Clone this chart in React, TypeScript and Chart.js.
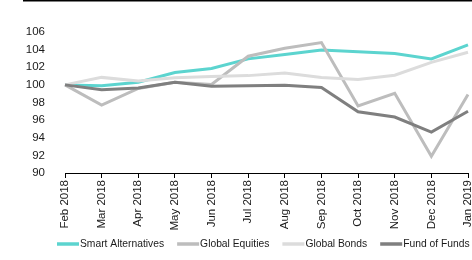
import React, { useEffect, useRef } from "react";
import { Chart, registerables } from "chart.js";

Chart.register(...registerables);

const categories = [
  "Feb 2018", "Mar 2018", "Apr 2018", "May 2018", "Jun 2018", "Jul 2018",
  "Aug 2018", "Sep 2018", "Oct 2018", "Nov 2018", "Dec 2018", "Jan 2019",
];
const smartAlternatives = [100, 99.9, 100.3, 101.4, 101.85, 102.95, 103.45, 103.95, 103.75, 103.55, 102.95, 104.55];
const globalEquities = [100, 97.7, 99.6, 100.3, 100.05, 103.25, 104.15, 104.8, 97.6, 99.05, 91.9, 98.9];
const globalBonds = [100, 100.85, 100.45, 100.8, 100.95, 101.05, 101.35, 100.85, 100.6, 101.1, 102.55, 103.7];
const fundOfFunds = [100, 99.45, 99.65, 100.3, 99.85, 99.9, 99.95, 99.7, 96.95, 96.35, 94.65, 97.0];

const seriesNames = ["Smart Alternatives", "Global Equities", "Global Bonds", "Fund of Funds"];
const seriesColors = ["#5CD4CF", "#BDBDBD", "#DCDCDC", "#7F7F7F"];

const FONT = '"Liberation Sans", Arial, sans-serif';

const customLegend = {
  id: "customLegend",
  beforeDraw(chart: any) {
    const ctx = chart.ctx;
    ctx.save();
    ctx.fillStyle = "#000";
    ctx.fillRect(23, 0, chart.width - 23, 1.5);
    ctx.restore();
  },
  afterDraw(chart: any) {
    const ctx = chart.ctx;
    const area = chart.chartArea;
    const fontSize = 10.3;
    ctx.save();
    ctx.font = `${fontSize}px ${FONT}`;
    const lineW = 22;
    const gap = 1;
    const spacing = 13;
    const items = chart.data.datasets.map((ds: any) => ({
      text: ds.label,
      color: ds.borderColor,
      w: ctx.measureText(ds.label).width,
    }));
    let x = area.left - 8;
    const y = chart.height - 16;
    ctx.textBaseline = "middle";
    ctx.textAlign = "left";
    for (const it of items) {
      ctx.strokeStyle = it.color;
      ctx.lineWidth = 3.5;
      ctx.beginPath();
      ctx.moveTo(x, y);
      ctx.lineTo(x + lineW, y);
      ctx.stroke();
      ctx.fillStyle = "#1a1a1a";
      ctx.fillText(it.text, x + lineW + gap, y + 0.5);
      x += lineW + gap + it.w + spacing;
    }
    ctx.restore();
  },
};

export default function App() {
  const ref = useRef<HTMLCanvasElement | null>(null);

  useEffect(() => {
    if (!ref.current) return;
    const values = [smartAlternatives, globalEquities, globalBonds, fundOfFunds];
    const chart = new Chart(ref.current, {
      type: "line",
      data: {
        labels: categories,
        datasets: values.map((v, i) => ({
          label: seriesNames[i],
          data: v,
          borderColor: seriesColors[i],
          backgroundColor: seriesColors[i],
          borderWidth: 3,
          pointRadius: 0,
          pointHoverRadius: 0,
          tension: 0,
          fill: false,
          order: 4 - i,
        })),
      },
      options: {
        animation: false,
        responsive: false,
        maintainAspectRatio: false,
        devicePixelRatio: 1,
        layout: { padding: { top: 32, right: 4, bottom: 30, left: 0 } },
        plugins: {
          legend: { display: false },
          tooltip: { enabled: false },
        },
        scales: {
          x: {
            offset: false,
            grid: {
              display: true,
              drawOnChartArea: false,
              drawTicks: true,
              tickLength: 5,
              color: "#000",
              lineWidth: 1,
            },
            border: { display: true, color: "#000", width: 1 },
            ticks: {
              minRotation: 90,
              maxRotation: 90,
              autoSkip: false,
              padding: 2,
              color: "#1a1a1a",
              font: { family: FONT, size: 11.5 },
            },
            afterFit: (s: any) => {
              s.height = 57;
              s.paddingRight = 0;
              s.paddingLeft = 0;
            },
          },
          y: {
            min: 90,
            max: 106,
            grid: { display: false },
            border: { display: false },
            ticks: {
              stepSize: 2,
              padding: 12,
              color: "#1a1a1a",
              font: { family: FONT, size: 11.5 },
            },
            afterFit: (s: any) => {
              s.width = 65;
            },
          },
        },
      },
      plugins: [customLegend],
    });
    return () => chart.destroy();
  }, []);

  return (
    <div style={{ position: "absolute", left: 0, top: 0, width: 472, height: 260, background: "#fff" }}>
      <canvas ref={ref} width={472} height={260} style={{ display: "block", width: 472, height: 260 }} />
    </div>
  );
}
